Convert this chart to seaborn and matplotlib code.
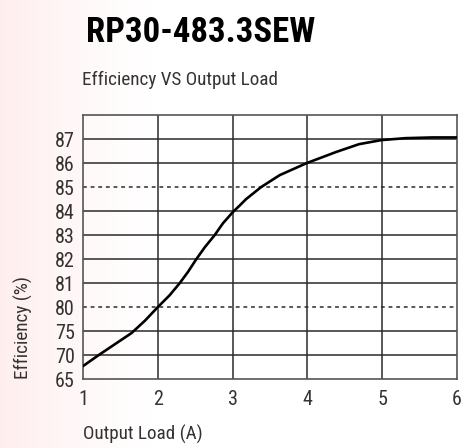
import numpy as np
import seaborn as sns
import matplotlib
matplotlib.use("Agg")
import matplotlib.pyplot as plt

sns.set_style("white")
plt.rcParams["font.family"] = ["Roboto Condensed", "Roboto", "DejaVu Sans"]

# ===================== DATA =====================
load = [1.0, 1.21, 1.43, 1.65, 1.83, 2.0, 2.16, 2.293, 2.404, 2.515, 2.627, 2.76, 2.87, 3.0,
        3.09, 3.18, 3.38, 3.63, 3.99, 4.38, 4.69, 4.99, 5.31, 5.67, 6.0]
efficiency = [67.7, 70.0, 72.3, 74.6, 77.2, 80.0, 80.5, 81.0, 81.47, 82.0, 82.49, 83.0, 83.49, 83.95,
              84.22, 84.5, 85.0, 85.5, 86.0, 86.46, 86.79, 86.96, 87.04, 87.07, 87.07]

y_ticks = [65, 70, 75, 80, 81, 82, 83, 84, 85, 86, 87]
x_ticks = [1, 2, 3, 4, 5, 6]
dashed_levels = [80, 85]

title = "RP30-483.3SEW"
subtitle = "Efficiency VS Output Load"

# piecewise-linear y scale: every tick gets the same spacing
scale_vals = y_ticks + [88]
scale_pos = np.arange(len(scale_vals), dtype=float)


def fwd(v):
    return np.interp(v, scale_vals, scale_pos, left=-1, right=len(scale_vals))


def inv(p):
    return np.interp(p, scale_pos, scale_vals)


# ===================== FIGURE =====================
fig = plt.figure(figsize=(4.64, 4.48), dpi=100)

# pink gradient background on the left
bg = fig.add_axes([0, 0, 1, 1], zorder=-10)
grad = np.linspace(0, 1, 464)
alpha = np.clip(1 - grad / 0.33, 0, 1) ** 1.2
img = np.ones((1, 464, 3))
img[0, :, 1] = 1 - 0.065 * alpha
img[0, :, 2] = 1 - 0.065 * alpha
bg.imshow(img, aspect="auto", extent=[0, 1, 0, 1])
bg.axis("off")

ax = fig.add_axes([0.179, 0.154, 0.806, 0.589])
ax.patch.set_alpha(0)
ax.set_yscale("function", functions=(fwd, inv))

grid_col = "#2b2b2b"
for v in y_ticks[1:]:
    ls = (0, (2.5, 2.5)) if v in dashed_levels else "-"
    ax.axhline(v, color=grid_col, lw=1.1, ls=ls, zorder=1)
for v in x_ticks[1:-1]:
    ax.axvline(v, color=grid_col, lw=1.1, zorder=1)

sns.lineplot(x=load, y=efficiency, ax=ax, color="black", lw=1.9, zorder=3,
             solid_joinstyle="round", solid_capstyle="round")

ax.set_xlim(1, 6)
ax.set_ylim(65, 88)
ax.set_xticks(x_ticks)
ax.set_yticks(y_ticks)
ax.set_yticklabels([str(v) for v in y_ticks])
ax.minorticks_off()
ax.tick_params(length=0, labelsize=14.5, colors="#333333")
ax.tick_params(axis="y", pad=6)
ax.tick_params(axis="x", pad=8)

for s in ax.spines.values():
    s.set_color("#555555")
    s.set_linewidth(1.2)

ax.set_xlabel("Output Load (A)", loc="left", fontsize=13.8, color="#333333", labelpad=11)
ax.set_ylabel("Efficiency (%)", loc="bottom", fontsize=13.8, color="#333333", labelpad=16)

fig.text(86 / 464, 1 - 32 / 448, title, fontsize=25, fontweight="bold",
         va="center", ha="left", color="black")
fig.text(82 / 464, 1 - 80 / 448, subtitle, fontsize=13.8, va="center", ha="left",
         color="#333333")

plt.savefig("out.png", dpi=100)
